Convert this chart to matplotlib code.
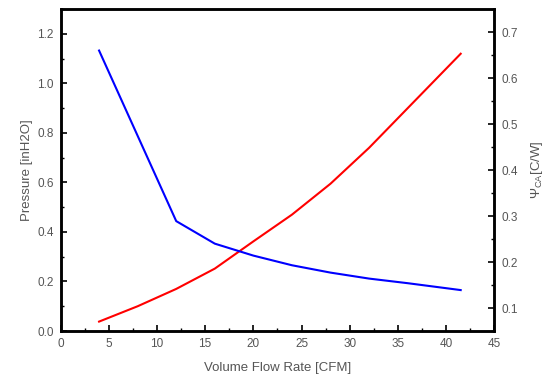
import matplotlib
matplotlib.use('Agg')
import matplotlib.pyplot as plt
from matplotlib.ticker import MultipleLocator

plt.rcParams['font.family'] = ['Liberation Sans', 'DejaVu Sans']
plt.rcParams['mathtext.fontset'] = 'custom'
plt.rcParams['mathtext.rm'] = 'Liberation Sans'

# system pressure drop (left axis)
flowP = [4, 8, 12, 16, 20, 24, 28, 32, 36, 40, 41.5]
pressure = [0.038, 0.10, 0.17, 0.252, 0.362, 0.47, 0.595, 0.74, 0.90, 1.06, 1.12]

# case-to-ambient thermal resistance (right axis)
flowR = [4, 12, 16, 20, 24, 28, 32, 36, 41.5]
psiCA = [0.66, 0.289, 0.24, 0.214, 0.193, 0.177, 0.164, 0.154, 0.139]

textCol = '#555555'

fig = plt.figure(figsize=(5.5, 3.82), dpi=100)
ax = fig.add_axes([0.110, 0.1335, 0.789, 0.8425])
ax2 = ax.twinx()

ax.plot(flowP, pressure, color='red', lw=1.5)
ax2.plot(flowR, psiCA, color='blue', lw=1.5)

ax.set_xlim(0, 45)
ax.set_ylim(0, 1.3)
ax2.set_ylim(0.05, 0.75)

ax.xaxis.set_major_locator(MultipleLocator(5))
ax.xaxis.set_minor_locator(MultipleLocator(2.5))
ax.yaxis.set_major_locator(MultipleLocator(0.2))
ax.yaxis.set_minor_locator(MultipleLocator(0.1))
ax2.yaxis.set_major_locator(MultipleLocator(0.1))
ax2.yaxis.set_minor_locator(MultipleLocator(0.05))

ax.yaxis.set_major_formatter(plt.FormatStrFormatter('%.1f'))
ax2.yaxis.set_major_formatter(plt.FormatStrFormatter('%.1f'))

for a in (ax, ax2):
    for s in a.spines.values():
        s.set_linewidth(1.8)
    a.tick_params(which='major', direction='in', length=4, width=1.2,
                  labelsize=8.5, labelcolor=textCol, pad=5)
    a.tick_params(which='minor', direction='in', length=2, width=1.0)
ax.tick_params(top=False, right=False)
ax2.tick_params(top=False)

ax.set_xlabel('Volume Flow Rate [CFM]', fontsize=9.5, color=textCol, labelpad=9)
ax.set_ylabel('Pressure [inH2O]', fontsize=9.5, color=textCol, labelpad=3)
ax2.set_ylabel(r'$\Psi_{\mathrm{CA}}$[C/W]', fontsize=9.5, color=textCol, labelpad=8)

fig.savefig('out.png', dpi=100)
